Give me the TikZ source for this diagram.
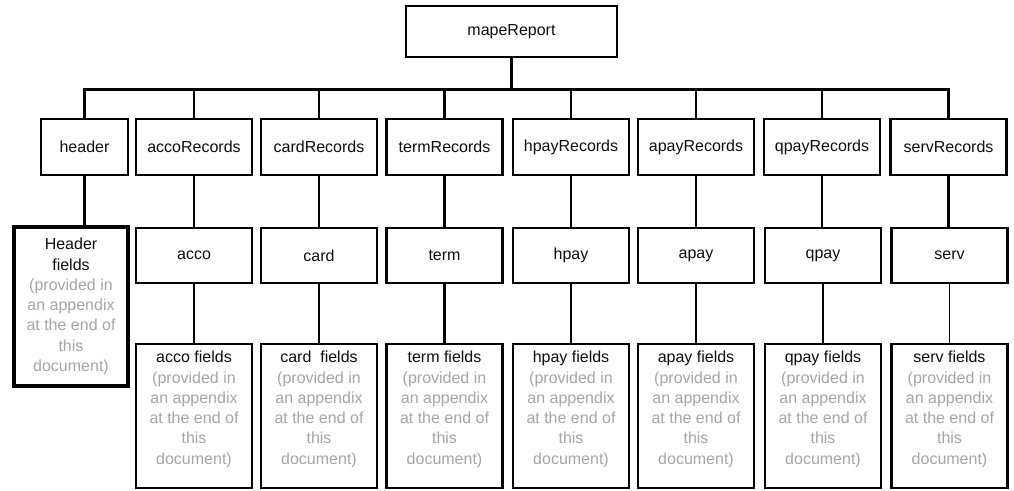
\documentclass[tikz,border=0pt]{standalone}
\usepackage{fontspec}
\setmainfont{Liberation Sans}
\definecolor{graytxt}{RGB}{166,166,166}
\definecolor{blacktxt}{RGB}{15,15,15}
\begin{document}
\begin{tikzpicture}[x=0.75pt,y=-0.75pt,
  every node/.style={font=\fontsize{12pt}{15.2pt}\selectfont, text=blacktxt, inner sep=0pt, align=center},
  topbox/.style={draw, line width=2pt, minimum width=211*0.75pt, minimum height=51*0.75pt},
  recbox/.style={draw, line width=2.2pt, minimum width=116*0.75pt, minimum height=56*0.75pt},
  itembox/.style={draw, line width=1.8pt, minimum width=116*0.75pt, minimum height=55*0.75pt},
  fieldbox/.style={draw, line width=1.8pt, minimum width=116*0.75pt, minimum height=144*0.75pt},
  hdrbox/.style={draw, line width=2.8pt, minimum width=114*0.75pt, minimum height=159*0.75pt},
  conn/.style={line width=2.2pt},
  thinconn/.style={line width=1.1pt}
]
\useasboundingbox (0,0) rectangle (1014,491);
\fill[white] (0,0) rectangle (1014,491);

% top
\node[topbox] (mape) at (511.5,31.5) {mapeReport};

% level 2
\node[recbox, minimum width=87*0.75pt] (header) at (84.5,147) {header};
\node[recbox] (accoR) at (194,147) {accoRecords};
\node[recbox] (cardR) at (319,147) {cardRecords};
\node[recbox] (termR) at (444.5,147) {termRecords};
\node[recbox] (hpayR) at (571,147) {hpayRecords};
\node[recbox] (apayR) at (696,147) {apayRecords};
\node[recbox] (qpayR) at (822,147) {qpayRecords};
\node[recbox] (servR) at (948.5,147) {servRecords};

% level 3
\node[itembox] (acco) at (194,255.5) {acco};
\node[itembox] (card) at (319,255.5) {card};
\node[itembox] (term) at (444.5,255.5) {term};
\node[itembox] (hpay) at (571,255.5) {hpay};
\node[itembox] (apay) at (696,255.5) {apay};
\node[itembox] (qpay) at (823,255.5) {qpay};
\node[itembox] (serv) at (949.5,255.5) {serv};

% header fields
\node[hdrbox] (hdrf) at (71,306.5) {Header\\fields\\{\color{graytxt}(provided in}\\{\color{graytxt}an appendix}\\{\color{graytxt}at the end of}\\{\color{graytxt}this}\\{\color{graytxt}document)}};

% level 4
\foreach \nm/\lab/\xx in {accof/acco fields/194, cardf/card~~fields/319, termf/term fields/444.5, hpayf/hpay fields/571, apayf/apay fields/696, qpayf/qpay fields/823, servf/serv fields/949.5}{
  \node[fieldbox] (\nm) at (\xx,416) {};
  \node[anchor=north] (\nm t) at (\xx,351) {\lab\\{\color{graytxt}(provided in}\\{\color{graytxt}an appendix}\\{\color{graytxt}at the end of}\\{\color{graytxt}this}\\{\color{graytxt}document)}};
}

% connectors
\draw[conn] (mape.south) -- ++(0,31) coordinate (bus);
\foreach \c in {header,accoR,cardR,termR,hpayR,apayR,qpayR,servR}{
  \draw[conn] (bus) -| (\c.north);
}
\draw[conn] (header.south) -- (header.south |- hdrf.north);
\foreach \a/\b in {accoR/acco,cardR/card,termR/term,hpayR/hpay,apayR/apay,qpayR/qpay,servR/serv}{
  \draw[conn] (\a.south) -- (\a.south |- \b.north);
}
\foreach \a/\b in {acco/accof,card/cardf,apay/apayf,serv/servf}{
  \draw[thinconn] (\a.south) -- (\b.north);
}
\foreach \a/\b in {term/termf,hpay/hpayf,qpay/qpayf}{
  \draw[conn] (\a.south) -- (\b.north);
}
\end{tikzpicture}
\end{document}
